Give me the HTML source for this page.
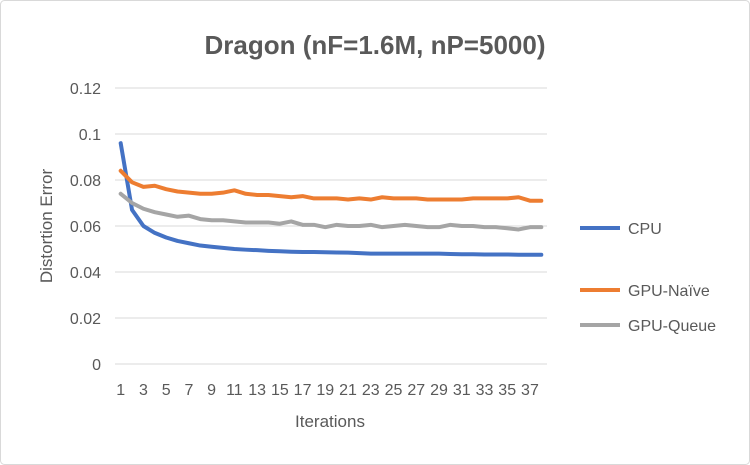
<!DOCTYPE html>
<html><head><meta charset="utf-8"><style>
html,body{margin:0;padding:0;background:#fff}
svg{display:block;font-family:"Liberation Sans",sans-serif}
</style></head><body>
<svg id="c" width="750" height="465">
<rect x="0.5" y="0.5" width="749" height="464" rx="4" fill="#fff" stroke="#d9d9d9"/>
<text x="375" y="54" text-anchor="middle" font-size="26" font-weight="bold" fill="#595959">Dragon (nF=1.6M, nP=5000)</text>
<g id="grid"></g><g id="yt"></g><g id="xt"></g><g id="series"></g>
<text x="330" y="427" text-anchor="middle" font-size="17" fill="#595959">Iterations</text>
<text transform="translate(52,226) rotate(-90)" text-anchor="middle" font-size="17" fill="#595959">Distortion Error</text>
<g id="legend"></g>
</svg>
<script>
const categories=[];for(let i=1;i<=38;i++)categories.push(i);
const cpu=[0.096,0.067,0.060,0.057,0.055,0.0535,0.0525,0.0515,0.051,0.0505,0.050,0.0497,0.0495,0.0492,0.049,0.0488,0.0487,0.0487,0.0486,0.0485,0.0484,0.0482,0.048,0.048,0.048,0.048,0.048,0.048,0.048,0.0478,0.0477,0.0477,0.0476,0.0476,0.0476,0.0475,0.0475,0.0475];
const naive=[0.084,0.079,0.077,0.0775,0.076,0.075,0.0745,0.074,0.074,0.0745,0.0755,0.074,0.0735,0.0735,0.073,0.0725,0.073,0.072,0.072,0.072,0.0715,0.072,0.0715,0.0725,0.072,0.072,0.072,0.0715,0.0715,0.0715,0.0715,0.072,0.072,0.072,0.072,0.0725,0.071,0.071];
const queue=[0.074,0.070,0.0675,0.066,0.065,0.064,0.0645,0.063,0.0625,0.0625,0.062,0.0615,0.0615,0.0615,0.061,0.062,0.0605,0.0605,0.0595,0.0605,0.060,0.060,0.0605,0.0595,0.060,0.0605,0.060,0.0595,0.0595,0.0605,0.060,0.060,0.0595,0.0595,0.059,0.0585,0.0595,0.0595];
const yTicks=[0,0.02,0.04,0.06,0.08,0.1,0.12];
const yTickLabels=["0","0.02","0.04","0.06","0.08","0.1","0.12"];
const seriesNames=["CPU","GPU-Naïve","GPU-Queue"];
const NS="http://www.w3.org/2000/svg";
const x0=115,x1=547,yb=364,yt=88;
const xs=i=>x0+(x1-x0)*(i+0.5)/categories.length;
const ys=v=>yb-(v/0.12)*(yb-yt);
function mk(t,a,p){const e=document.createElementNS(NS,t);for(const k in a)e.setAttribute(k,a[k]);p.appendChild(e);return e;}
const g=document.getElementById('grid'),ytg=document.getElementById('yt'),xtg=document.getElementById('xt'),sg=document.getElementById('series'),lg=document.getElementById('legend');
yTicks.forEach((v,i)=>{
 const l=mk('line',{x1:x0,x2:x1,y1:ys(v),y2:ys(v),stroke:'#d9d9d9','stroke-width':1},g);
 
 
 const t=mk('text',{x:101,y:ys(v)+6,'text-anchor':'end','font-size':16,fill:'#595959'},ytg);t.textContent=yTickLabels[i];
 
 
});
categories.forEach((c,i)=>{if(c%2===0)return;
 const t=mk('text',{x:xs(i),y:395,'text-anchor':'middle','font-size':16,fill:'#595959'},xtg);t.textContent=c;
 
 
});
const colors=['#4472c4','#ed7d31','#a5a5a5'];
[cpu,naive,queue].forEach((d,k)=>{
 const p=mk('polyline',{points:d.map((v,i)=>xs(i)+','+ys(v)).join(' '),fill:'none',stroke:colors[k],'stroke-width':4,'stroke-linejoin':'round','stroke-linecap':'round'},sg);
 
 
 const ly=[228,290,325][k];
 const ll=mk('line',{x1:580,x2:620,y1:ly,y2:ly,stroke:colors[k],'stroke-width':4},lg);
 
 
 const lt=mk('text',{x:628,y:ly+6,'font-size':16,fill:'#595959'},lg);lt.textContent=seriesNames[k];
 
 
});
</script>
</body></html>
